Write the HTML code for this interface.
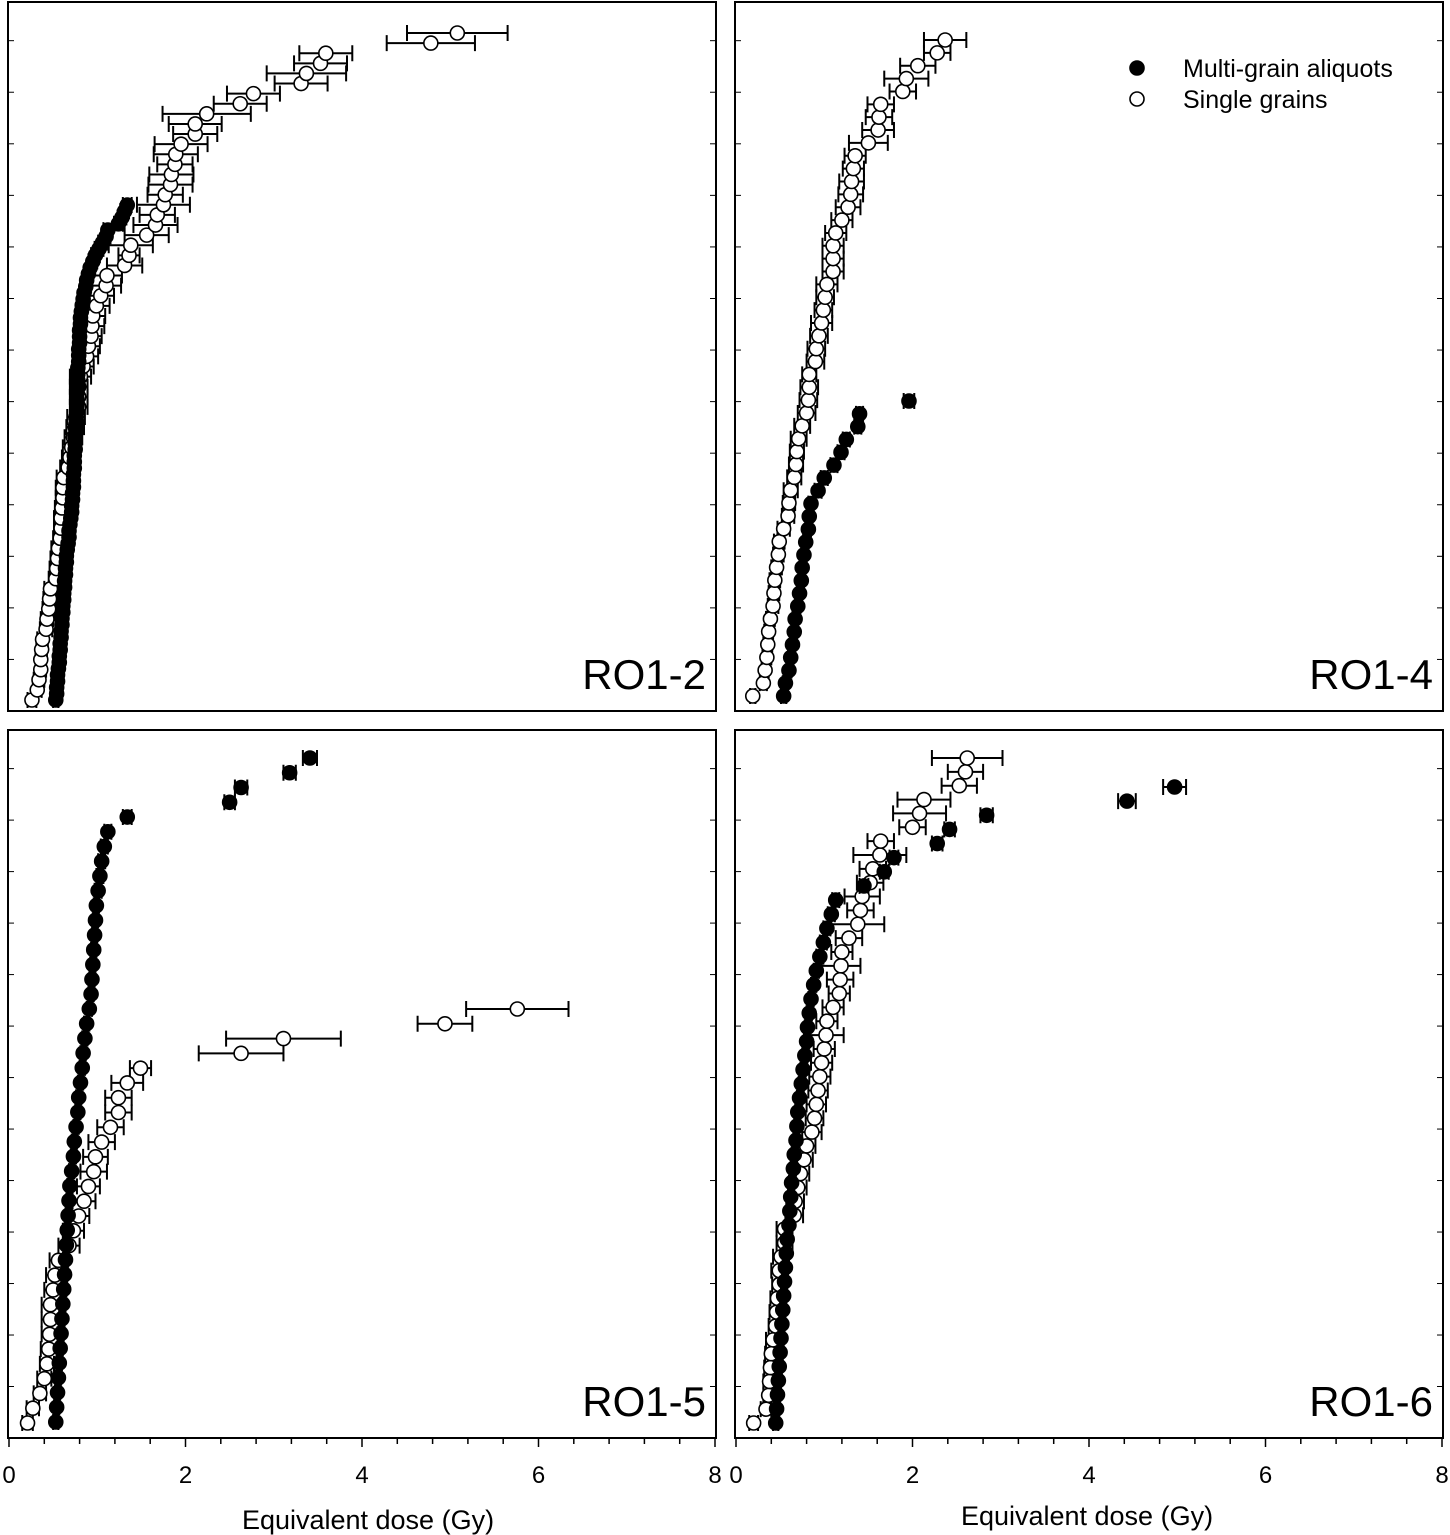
<!DOCTYPE html>
<html><head><meta charset="utf-8"><title>Equivalent dose distributions</title>
<style>
html,body{margin:0;padding:0;background:#fff;}
svg{display:block;font-family:"Liberation Sans",Arial,sans-serif;}
</style></head>
<body>
<svg id="chart" width="1450" height="1535" viewBox="0 0 1450 1535" xmlns="http://www.w3.org/2000/svg"></svg>
<script>
// ---------- data ----------
const p1SingleDe = [0.26,0.32,0.34,0.36,0.36,0.37,0.38,0.42,0.43,0.45,0.46,0.47,0.53,0.54,0.55,0.56,0.58,0.59,0.59,0.60,0.61,0.61,0.62,0.67,0.69,0.71,0.73,0.75,0.76,0.79,0.79,0.79,0.81,0.84,0.88,
0.90,0.93,0.94,0.95,0.99,1.04,1.10,1.11,1.31,1.36,1.38,1.56,1.66,1.68,1.75,1.77,1.83,1.84,1.88,1.89,1.95,2.11,2.11,2.24,2.62,2.77,3.31,3.37,3.53,3.59,4.78,5.08];
const p1SingleErr = [0.05,0.05,0.06,0.06,0.06,0.06,0.06,0.07,0.07,0.07,0.07,0.07,0.08,0.08,0.08,0.08,0.08,0.08,0.08,0.08,0.08,0.08,0.08,0.09,0.09,0.1,0.1,0.1,0.1,0.1,0.1,0.1,0.12,0.12,0.13,
0.13,0.12,0.14,0.14,0.15,0.15,0.17,0.17,0.2,0.12,0.25,0.25,0.25,0.2,0.3,0.2,0.25,0.25,0.2,0.25,0.3,0.25,0.3,0.5,0.3,0.3,0.3,0.45,0.3,0.3,0.5,0.57];
const p1MultiDe = [0.53,0.54,0.54,0.55,0.55,0.56,0.57,0.57,0.58,0.58,0.59,0.59,0.60,0.60,0.61,0.61,0.62,0.62,0.63,0.63,0.64,0.64,0.65,0.65,0.66,0.67,0.68,0.68,0.69,0.70,0.71,0.71,0.72,0.72,0.73,0.73,0.73,0.74,0.74,0.74,0.75,0.75,0.75,0.76,0.76,0.76,0.77,0.77,0.77,0.77,0.78,0.78,0.78,0.78,0.79,0.79,0.79,0.80,0.80,0.80,0.81,0.81,0.82,0.83,0.84,0.85,0.87,0.88,0.90,0.92,0.95,0.98,1.02,1.06,1.10,1.12,1.24,1.28,1.31,1.34];
const p1MultiErr = [0.03,0.03,0.03,0.03,0.03,0.03,0.03,0.03,0.03,0.03,0.03,0.03,0.03,0.03,0.03,0.03,0.03,0.03,0.03,0.03,0.03,0.03,0.03,0.03,0.03,0.03,0.03,0.03,0.03,0.03,0.03,0.03,0.03,0.03,0.03,0.03,0.03,0.03,0.03,0.03,0.04,0.04,0.04,0.04,0.04,0.04,0.04,0.04,0.04,0.04,0.04,0.04,0.04,0.04,0.04,0.04,0.04,0.04,0.04,0.04,0.04,0.04,0.04,0.04,0.04,0.04,0.04,0.04,0.04,0.04,0.05,0.05,0.05,0.05,0.05,0.05,0.05,0.05,0.05,0.05];

const p2SingleDe = [0.19,0.31,0.33,0.35,0.36,0.37,0.39,0.42,0.43,0.44,0.46,0.48,0.49,0.54,0.59,0.60,0.62,0.66,0.68,0.69,0.71,0.75,0.80,0.82,0.83,0.83,0.90,0.91,0.94,0.97,0.99,1.01,1.03,1.10,1.10,1.10,1.13,1.20,1.27,1.30,1.31,1.33,1.35,1.50,1.61,1.62,1.64,1.89,1.93,2.06,2.28,2.37];
const p2SingleErr = [0.03,0.04,0.04,0.05,0.05,0.05,0.05,0.06,0.06,0.06,0.06,0.06,0.06,0.07,0.07,0.07,0.08,0.08,0.08,0.08,0.09,0.09,0.1,0.1,0.1,0.08,0.1,0.1,0.1,0.12,0.1,0.1,0.12,0.12,0.12,0.12,0.12,0.12,0.14,0.14,0.14,0.12,0.12,0.22,0.18,0.15,0.15,0.15,0.25,0.2,0.15,0.24];
const p2MultiDe = [0.54,0.56,0.60,0.62,0.64,0.66,0.67,0.70,0.72,0.74,0.75,0.77,0.79,0.82,0.83,0.85,0.93,1.00,1.11,1.19,1.25,1.38,1.40,1.96];
const p2MultiErr = [0.03,0.03,0.03,0.03,0.03,0.03,0.03,0.03,0.03,0.03,0.03,0.03,0.03,0.03,0.03,0.03,0.04,0.04,0.04,0.04,0.04,0.04,0.04,0.06];

const p3SingleDe = [0.21,0.27,0.35,0.40,0.43,0.45,0.46,0.47,0.47,0.50,0.52,0.56,0.68,0.73,0.79,0.85,0.90,0.96,0.98,1.05,1.15,1.24,1.24,1.34,1.49,2.63,3.11,4.94,5.76];
const p3SingleErr = [0.06,0.07,0.07,0.08,0.08,0.09,0.09,0.1,0.1,0.1,0.1,0.1,0.12,0.12,0.12,0.13,0.13,0.15,0.14,0.15,0.15,0.15,0.15,0.18,0.12,0.48,0.65,0.31,0.58];
const p3MultiDe = [0.53,0.54,0.55,0.56,0.57,0.58,0.59,0.60,0.61,0.62,0.63,0.64,0.65,0.66,0.67,0.68,0.69,0.71,0.73,0.74,0.76,0.78,0.79,0.81,0.83,0.84,0.86,0.88,0.91,0.93,0.94,0.95,0.96,0.97,0.98,0.99,1.01,1.03,1.05,1.08,1.12,1.34,2.50,2.63,3.18,3.41];
const p3MultiErr = [0.03,0.03,0.03,0.03,0.03,0.03,0.03,0.03,0.03,0.03,0.03,0.03,0.03,0.03,0.03,0.03,0.03,0.03,0.03,0.03,0.03,0.03,0.03,0.03,0.03,0.03,0.03,0.03,0.03,0.03,0.03,0.03,0.03,0.03,0.03,0.03,0.04,0.04,0.04,0.04,0.04,0.05,0.06,0.07,0.07,0.08];

const p4SingleDe = [0.20,0.34,0.37,0.38,0.39,0.40,0.42,0.45,0.46,0.47,0.49,0.49,0.51,0.55,0.55,0.66,0.67,0.70,0.73,0.77,0.80,0.86,0.89,0.91,0.93,0.95,0.97,1.00,1.02,1.03,1.10,1.17,1.18,1.19,1.20,1.28,1.38,1.41,1.43,1.52,1.55,1.63,1.64,2.00,2.08,2.13,2.53,2.60,2.62];
const p4SingleErr = [0.05,0.06,0.06,0.07,0.07,0.07,0.08,0.08,0.08,0.08,0.08,0.09,0.09,0.09,0.09,0.1,0.1,0.1,0.1,0.1,0.1,0.11,0.1,0.11,0.11,0.12,0.12,0.12,0.2,0.12,0.12,0.12,0.15,0.22,0.12,0.15,0.3,0.15,0.2,0.15,0.15,0.3,0.15,0.15,0.3,0.3,0.2,0.2,0.4];
const p4MultiDe = [0.45,0.46,0.47,0.48,0.49,0.50,0.51,0.52,0.53,0.54,0.55,0.56,0.57,0.58,0.60,0.61,0.62,0.63,0.65,0.66,0.68,0.69,0.70,0.72,0.74,0.76,0.78,0.80,0.81,0.83,0.85,0.88,0.91,0.95,0.99,1.03,1.08,1.13,1.45,1.68,1.79,2.28,2.42,2.84,4.43,4.97];
const p4MultiErr = [0.03,0.03,0.03,0.03,0.03,0.03,0.03,0.03,0.03,0.03,0.03,0.03,0.03,0.03,0.03,0.03,0.03,0.03,0.03,0.03,0.03,0.03,0.03,0.03,0.03,0.03,0.03,0.03,0.03,0.03,0.03,0.03,0.03,0.04,0.04,0.04,0.04,0.04,0.05,0.05,0.05,0.06,0.06,0.07,0.1,0.13];

const xTicks = [0,2,4,6,8];
const xTickLabels = ["0","2","4","6","8"];
const panelNames = ["RO1-2","RO1-4","RO1-5","RO1-6"];
const legendLabels = ["Multi-grain aliquots","Single grains"];

// ---------- layout ----------
const NS = "http://www.w3.org/2000/svg";
const svg = document.getElementById("chart");
function mk(tag, attrs, parent){
  const e = document.createElementNS(NS, tag);
  for (const k in attrs) e.setAttribute(k, attrs[k]);
  (parent||svg).appendChild(e);
  return e;
}
const panels = [
  {x0:8, x1:716, y0:2, y1:711, xAxis:false,
   series:[{de:p1SingleDe, err:p1SingleErr, filled:false, yb:700, yt:33},
           {de:p1MultiDe, err:p1MultiErr, filled:true, yb:700, yt:205}]},
  {x0:735, x1:1443, y0:2, y1:711, xAxis:false,
   series:[{de:p2SingleDe, err:p2SingleErr, filled:false, yb:696, yt:40},
           {de:p2MultiDe, err:p2MultiErr, filled:true, yb:696, yt:401}]},
  {x0:8, x1:716, y0:730, y1:1438, xAxis:true,
   series:[{de:p3SingleDe, err:p3SingleErr, filled:false, yb:1423, yt:1009},
           {de:p3MultiDe, err:p3MultiErr, filled:true, yb:1422, yt:758}]},
  {x0:735, x1:1443, y0:730, y1:1438, xAxis:true,
   series:[{de:p4SingleDe, err:p4SingleErr, filled:false, yb:1423, yt:758},
           {de:p4MultiDe, err:p4MultiErr, filled:true, yb:1423, yt:787}]}
];
const R = 7, CAP = 8;

panels.forEach((p, pi) => {
  const g = mk("g", {});
  
  
  const xs = v => p.x0 + 1 + v * (p.x1 - p.x0 - 2) / 8;
  const fr = mk("rect", {x:p.x0, y:p.y0, width:p.x1-p.x0, height:p.y1-p.y0, fill:"none", stroke:"#000", "stroke-width":2}, g);
  
  
  for (let k = 1; k < 14; k++) {
    const yy = p.y1 - k * (p.y1 - p.y0) / 13.75;
    mk("line", {x1:p.x0, x2:p.x0+6, y1:yy, y2:yy, stroke:"#000", "stroke-width":1}, g);
    mk("line", {x1:p.x1-6, x2:p.x1, y1:yy, y2:yy, stroke:"#000", "stroke-width":1}, g);
  }
  if (p.xAxis) {
    for (let v = 0; v <= 8.001; v += 0.4) {
      const major = Math.abs(v/2 - Math.round(v/2)) < 0.01;
      mk("line", {x1:xs(v), x2:xs(v), y1:p.y1, y2:p.y1 + (major?9:6), stroke:"#000", "stroke-width":1.5}, g);
    }
    xTicks.forEach((t, i) => {
      const tl = mk("text", {x:xs(t), y:p.y1+45, "text-anchor":"middle", "font-size":24, fill:"#000"}, g);
      tl.textContent = xTickLabels[i];
      
      
    });
    const at = mk("text", {x:(p.x0+p.x1)/2 + (pi==2?6:-2), y:pi==2?1529:1525, "text-anchor":"middle", "font-size":27, fill:"#000"}, g);
    at.textContent = "Equivalent dose (Gy)";
    
    
  }
  p.series.forEach(s => {
    const sg = mk("g", {}, g);
    
    
    const n = s.de.length;
    const ys = i => s.yb - i * (s.yb - s.yt) / (n - 1);
    for (let i = 0; i < n; i++) {
      const y = ys(i), a = xs(s.de[i] - s.err[i]), b = xs(s.de[i] + s.err[i]);
      mk("path", {d:`M${a},${y}H${b}M${a},${y-CAP}V${y+CAP}M${b},${y-CAP}V${y+CAP}`, stroke:"#000", "stroke-width":2, fill:"none"}, sg);
    }
    for (let i = 0; i < n; i++) {
      const c = mk("circle", {cx:xs(s.de[i]), cy:ys(i), r:R, fill:s.filled?"#000":"#fff", stroke:"#000", "stroke-width":1.6}, sg);
      
      
    }
  });
  const lb = mk("text", {x:p.x1-10, y:p.y1-22, "text-anchor":"end", "font-size":42, fill:"#000"}, g);
  lb.textContent = panelNames[pi];
  
  
});

const lg = mk("g", {});


legendLabels.forEach((t, i) => {
  const y = 68 + i * 31;
  const c = mk("circle", {cx:1137, cy:y, r:7, fill:i==0?"#000":"#fff", stroke:"#000", "stroke-width":1.6}, lg);
  
  
  const tx = mk("text", {x:1183, y:y+9, "font-size":25, fill:"#000"}, lg);
  tx.textContent = t;
  
  
});
</script>
</body></html>
